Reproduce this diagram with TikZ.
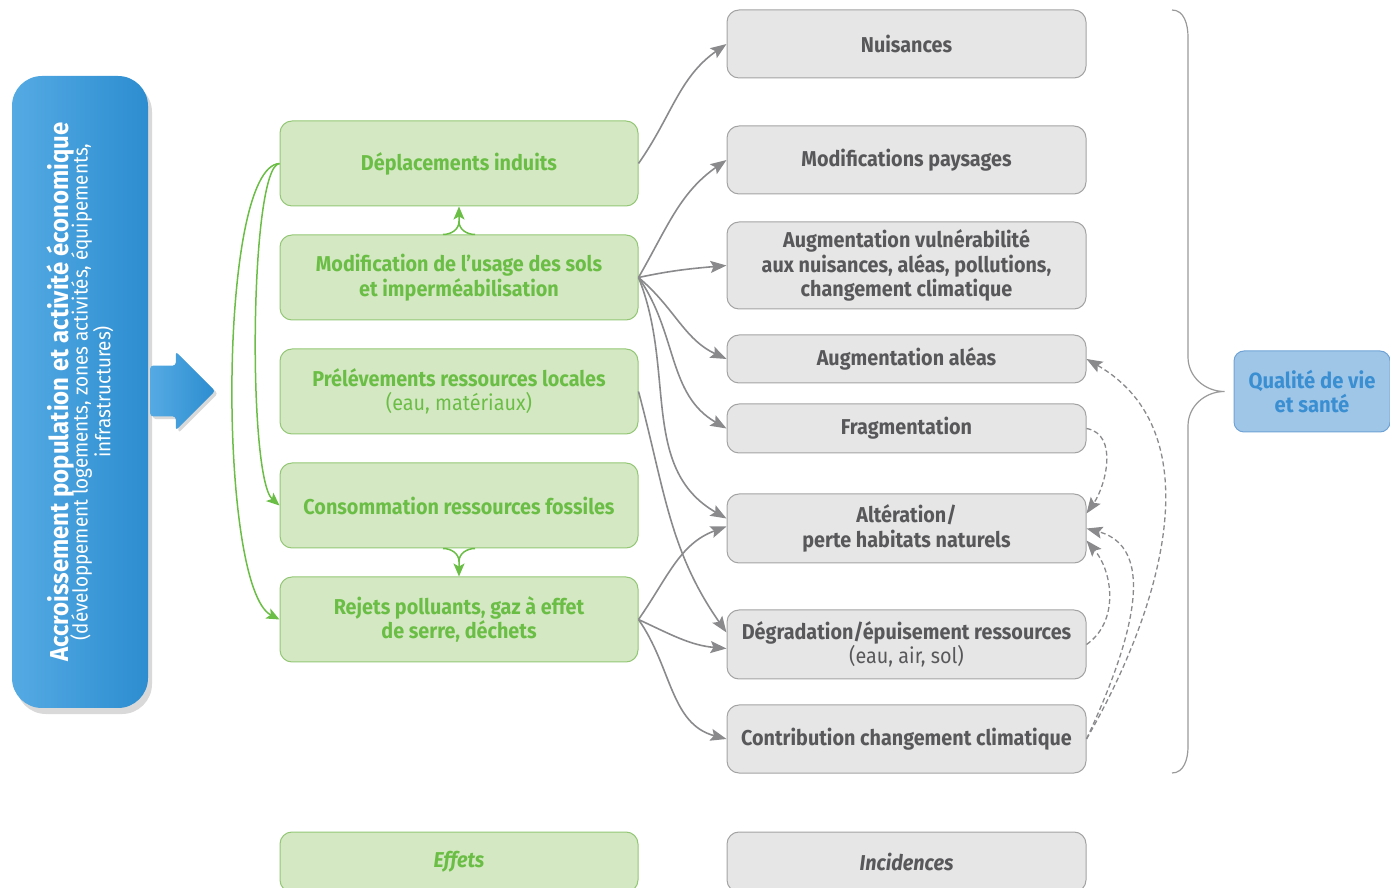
\documentclass[tikz,border=0pt]{standalone}
\usepackage{fontspec}
\setmainfont{Fira Sans}[FakeStretch=0.92]
\usetikzlibrary{arrows.meta,shapes,shadows}
\usepackage{xcolor}
\definecolor{effetfill}{HTML}{D5E8C4}
\definecolor{effetline}{HTML}{93C775}
\definecolor{effettext}{HTML}{6BBE45}
\definecolor{incfill}{HTML}{E6E6E6}
\definecolor{incline}{HTML}{A3A3A3}
\definecolor{inctext}{HTML}{58585B}
\definecolor{liengris}{HTML}{8A8A8D}
\definecolor{bracegris}{HTML}{9A9A9A}
\definecolor{bleuclair}{HTML}{55AAE3}
\definecolor{bleufonce}{HTML}{2C8DD0}
\definecolor{qualfill}{HTML}{A0C6E7}
\definecolor{qualline}{HTML}{6FA3D6}
\definecolor{qualtext}{HTML}{3A8FD2}

\begin{document}
\begin{tikzpicture}[x=1pt,y=1pt,node distance=114pt,thick,>={Stealth[length=16pt,width=12pt,inset=3pt]}]
  \tikzstyle{effet}=[rectangle,rounded corners=12pt,draw=effetline,line width=1pt,fill=effetfill,text=effettext,minimum width=358pt,minimum height=85pt,align=center,font=\fontsize{21.5}{24.5}\selectfont\bfseries]
  \tikzstyle{incidence}=[rectangle,rounded corners=12pt,draw=incline,line width=1pt,fill=incfill,text=inctext,minimum width=359pt,align=center,font=\fontsize{21.5}{24.5}\selectfont\bfseries]
  \tikzstyle{lien}=[->,draw=liengris,line width=1.6pt]
  \tikzstyle{retour}=[->,draw=liengris,line width=1.3pt,dash pattern=on 5pt off 3pt]
  \tikzstyle{vert}=[-{Stealth[length=13pt,width=11pt,inset=3pt]},draw=effettext,line width=1.5pt]
  \useasboundingbox (0,0) rectangle (1390,887);
  % source
  \node[rotate=90,rounded corners=30pt,minimum width=632pt,minimum height=136pt,left color=bleuclair,right color=bleufonce,text=white,align=center,drop shadow={shadow xshift=4pt,shadow yshift=-6pt,opacity=0.3}](pop) at (80,495){{\fontsize{26}{18}\selectfont\bfseries Accroissement population et activité économique}\\[-5pt]
    {\fontsize{20.5}{27}\selectfont (développement logements, zones activités, équipements,}\\{\fontsize{20.5}{27}\selectfont infrastructures)}};
  \node[single arrow,left color=bleuclair,right color=bleufonce,minimum height=65pt,minimum width=78pt,single arrow head extend=14pt,inner xsep=0pt,inner ysep=25pt,rounded corners=3pt,drop shadow={opacity=0.3}](fleche) at (170,496){};
  % effets
  \node[effet](depl) at (459,723.5){Déplacements induits};
  \node[effet,below of=depl](usage){Modification de l’usage des sols\\et imperméabilisation};
  \node[effet,below of=usage](prelev){Prélévements ressources locales\\{\mdseries (eau, matériaux)}};
  \node[effet,below of=prelev](fossiles){Consommation ressources fossiles};
  \node[effet,below of=fossiles](rejets){Rejets polluants, gaz à effet\\de serre, déchets};
  % incidences
  \node[incidence,minimum height=68pt](nuis) at (906.5,843){Nuisances};
  \node[incidence,minimum height=68pt](paysage) at (906.5,727){Modifications paysages};
  \node[incidence,minimum height=87pt](vuln) at (906.5,621.5){Augmentation vulnérabilité\\aux nuisances, aléas, pollutions,\\changement climatique};
  \node[incidence,minimum height=48pt](aleas) at (906.5,528){Augmentation aléas};
  \node[incidence,minimum height=49pt](frag) at (906.5,458.5){Fragmentation};
  \node[incidence,minimum height=69pt](habitat) at (906.5,358.5){Altération/\\perte habitats naturels};
  \node[incidence,minimum height=69pt](ressource) at (906.5,242.5){Dégradation/épuisement ressources\\{\mdseries (eau, air, sol)}};
  \node[incidence,minimum height=68pt](climat) at (906.5,148){Contribution changement climatique};
  % legende
  \node[effet,minimum height=60pt,font=\fontsize{21.5}{24.5}\selectfont\bfseries\itshape](legeffet) at (459,25){Effets};
  \node[incidence,minimum height=60pt,font=\fontsize{21.5}{24.5}\selectfont\bfseries\itshape](leginc) at (906.5,25){Incidences};
  \node[rectangle,rounded corners=10pt,draw=qualline,line width=1pt,fill=qualfill,text=qualtext,minimum width=156pt,minimum height=81pt,align=center,font=\fontsize{22}{24}\selectfont\bfseries](qualite) at (1312,495.5){Qualité de vie\\et santé};
  \coordinate(pointe) at ([xshift=-9pt]qualite.west);
  \draw[draw=bracegris,line width=1.2pt](1172,877) to[out=0,in=90] (1188,850) -- (1188,530) to[out=-90,in=180] (pointe) to[out=180,in=90] (1188,461) -- (1188,140) to[out=-90,in=0] (1172,114);
  % liens verts
  \draw[vert]([xshift=-16pt]usage.north) to[out=0,in=-90] ([yshift=13pt]usage.north) -- (depl.south);
  \draw[draw=effettext,line width=1.5pt]([xshift=16pt]usage.north) to[out=180,in=-90] ([yshift=13pt]usage.north);
  \draw[vert]([xshift=-16pt]fossiles.south) to[out=0,in=90] ([yshift=-13pt]fossiles.south) -- (rejets.north);
  \draw[draw=effettext,line width=1.5pt]([xshift=16pt]fossiles.south) to[out=180,in=90] ([yshift=-13pt]fossiles.south);
  \draw[vert](depl.west) .. controls +(-30,-3) and +(-32,28) .. (fossiles.west);
  \draw[vert](depl.west) .. controls +(-62,-3) and +(-62,32) .. (rejets.west);
  % liens effets -> incidences
  \draw[lien](depl.east) to[out=55,in=215] (nuis.west);
  \draw[lien](usage.east) to[out=60,in=215] (paysage.west);
  \draw[lien](usage.east) to[out=12,in=185] (vuln.west);
  \draw[lien](usage.east) to[out=-40,in=155] (aleas.west);
  \draw[lien](usage.east) to[out=-55,in=150] (frag.west);
  \draw[lien](usage.east) to[out=-68,in=150] ([yshift=10pt]habitat.west);
  \draw[lien](prelev.east) to[out=-75,in=125] ([yshift=12pt]ressource.west);
  \draw[lien](rejets.east) to[out=55,in=200] ([yshift=2pt]habitat.west);
  \draw[lien](rejets.east) to[out=-25,in=175] ([yshift=-4pt]ressource.west);
  \draw[lien](rejets.east) to[out=-55,in=165] (climat.west);
  % retroactions
  \draw[retour](frag.east) to[out=-10,in=55] ([yshift=15pt]habitat.east);
  \draw[retour](climat.east) to[out=60,in=-30] (aleas.east);
  \draw[retour](climat.east) to[out=65,in=-15] (habitat.east);
  \draw[retour](ressource.east) to[out=35,in=-50] ([yshift=-12pt]habitat.east);
\end{tikzpicture}
\end{document}
